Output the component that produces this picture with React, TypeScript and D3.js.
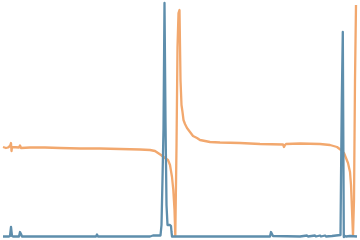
import React from "react";
import * as d3 from "d3";

// time axis (sample positions) and intensities
const blueT = [0, 6, 7, 8, 9, 10, 16, 17, 18, 19, 57, 93, 94, 95, 147, 150, 157.5, 158.5, 159.5, 160.5, 161.5, 162.5, 163.5, 164.5, 165, 167, 168, 168.5, 169, 197, 267, 268, 270, 297, 304, 305, 312, 313, 317, 318, 322, 323, 329, 333, 337.5, 338, 338.8, 339.8, 340.8, 342, 343, 347, 354];
const blueV = [0.5, 0.5, 1, 10, 1, 0.5, 0.5, 5, 3, 0.5, 0.5, 0.5, 2.5, 0.5, 0.5, 1.5, 1.5, 12, 58, 108, 234, 115, 32, 12, 12, 12, 11, 5, 0.5, 0.5, 0.5, 5, 1, 0.5, 1.5, 0.5, 1.5, 0.5, 1.5, 0.5, 1.5, 0.5, 1, 1.5, 2, 57, 137, 205, 0, 1, 0.5, 1, 0.5];

const orangeT = [0, 3, 5, 7, 8, 8.5, 9, 16, 17, 18, 27, 42, 57, 77, 97, 117, 137, 147, 152, 155, 158, 162, 165, 167, 169, 170.3, 171.5, 172.3, 173.5, 174.5, 175.5, 176.5, 177.5, 178.5, 179.5, 180.5, 182, 184, 187, 190, 194, 197, 207, 217, 237, 257, 280, 281, 282, 283, 297, 317, 327, 334, 338, 341, 343, 345, 347, 348, 349, 350, 351, 352, 353];
const orangeV = [90, 89, 89.5, 91, 94, 86, 90, 89.5, 91.5, 89, 89.5, 89.5, 89, 88.5, 88.5, 88, 87.5, 87, 86, 84, 82, 79, 77, 72, 60, 47, 27, 1, 90, 190, 224, 227, 157, 132, 125, 117, 113, 109, 105, 101, 99, 97, 95, 94.5, 94, 93, 92.5, 90, 92, 93, 93.5, 93, 92, 90, 87, 84, 79, 74, 65, 52, 27, 1, 37, 157, 232];

const W = 360;
const H = 240;

export default function App() {
  const x = d3.scaleLinear().domain([0, 354]).range([3, 357]);
  const y = d3.scaleLinear().domain([0, 234]).range([237, 3]);
  const line = d3
    .line<[number, number]>()
    .x((d) => x(d[0]))
    .y((d) => y(d[1]))
    .curve(d3.curveLinear);
  const blue = line(blueT.map((t, i) => [t, blueV[i]] as [number, number])) || "";
  const orange = line(orangeT.map((t, i) => [t, orangeV[i]] as [number, number])) || "";
  return (
    <svg
      width={W}
      height={H}
      style={{ position: "fixed", left: 0, top: 0, background: "#fff" }}
    >
      <path d={orange} fill="none" stroke="#f2a86e" strokeWidth={2.3} strokeLinejoin="round" />
      <path d={blue} fill="none" stroke="#5e8eac" strokeWidth={2.3} strokeLinejoin="round" />
    </svg>
  );
}
